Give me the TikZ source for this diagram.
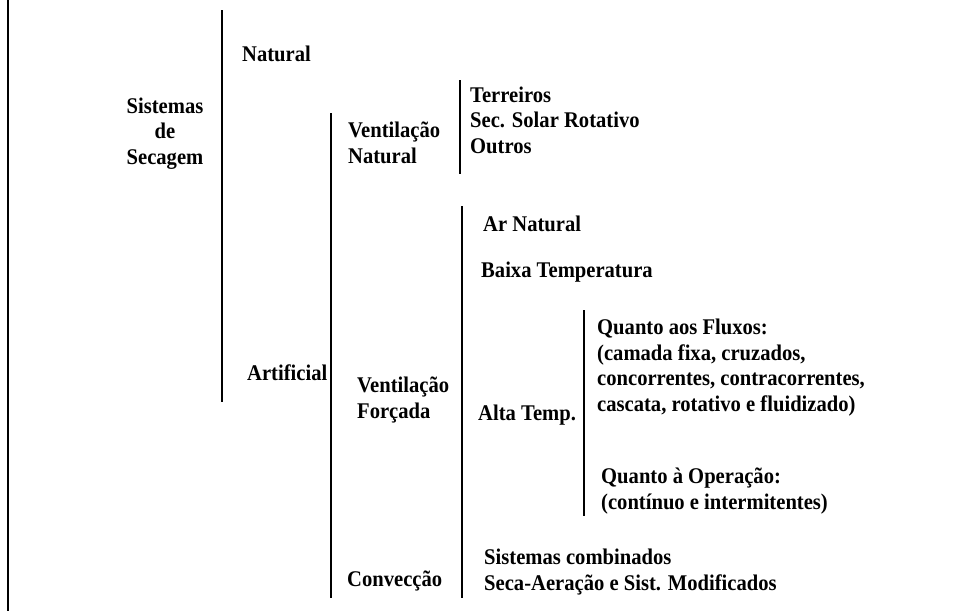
\documentclass[tikz,border=0pt]{standalone}
\usepackage{fontspec}
\setmainfont{Liberation Serif}[FakeStretch=0.92]

\begin{document}
\begin{tikzpicture}[x=1pt,y=-1pt,
  lbl/.style={inner sep=0pt,anchor=base west,align=left,font=\fontsize{22.4}{25.5}\selectfont\bfseries},
  brk/.style={line width=1.6pt}]
  \useasboundingbox (0,0) rectangle (954,611);
  \draw[line width=2.6pt] (8,0) -- (8,611);

  % labels (base = last line)
  \node[lbl,anchor=base,align=center] (root) at (165,164) {Sistemas\\de\\Secagem};
  \node[lbl] (nat) at (242,61) {Natural};
  \node[lbl] (art) at (247,380) {Artificial};
  \node[lbl] (vnat) at (348,163) {Ventila\c{c}\~ao\\Natural};
  \node[lbl] (vfor) at (357,418) {Ventila\c{c}\~ao\\For\c{c}ada};
  \node[lbl] (conv) at (347,586) {Convec\c{c}\~ao};
  \node[lbl] (terr) at (470,153) {Terreiros\\Sec. Solar Rotativo\\Outros};
  \node[lbl] (arnat) at (483,231) {Ar Natural};
  \node[lbl] (baixa) at (481,277) {Baixa Temperatura};
  \node[lbl] (alta) at (478,420) {Alta Temp.};
  \node[lbl] (flux) at (597,411) {Quanto aos Fluxos:\\(camada fixa, cruzados,\\concorrentes, contracorrentes,\\cascata, rotativo e fluidizado)};
  \node[lbl] (oper) at (601,509) {Quanto \`a Opera\c{c}\~ao:\\(cont\'inuo e intermitentes)};
  \node[lbl] (comb) at (484,590) {Sistemas combinados\\Seca-Aera\c{c}\~ao e Sist. Modificados};

  % brackets
  \coordinate (b1t) at (222,10);  \coordinate (b1b) at (222,402);
  \coordinate (b2t) at (331,113); \coordinate (b2b) at (331,598);
  \coordinate (b3t) at (460,80);  \coordinate (b3b) at (460,174);
  \coordinate (b4t) at (462,206); \coordinate (b4b) at (462,598);
  \coordinate (b5t) at (584,310); \coordinate (b5b) at (584,516);
  \draw[brk] (b1t) -- (b1b);
  \draw[brk] (b2t) -- (b2b);
  \draw[brk] (b3t) -- (b3b);
  \draw[brk] (b4t) -- (b4b);
  \draw[brk] (b5t) -- (b5b);
\end{tikzpicture}
\end{document}
